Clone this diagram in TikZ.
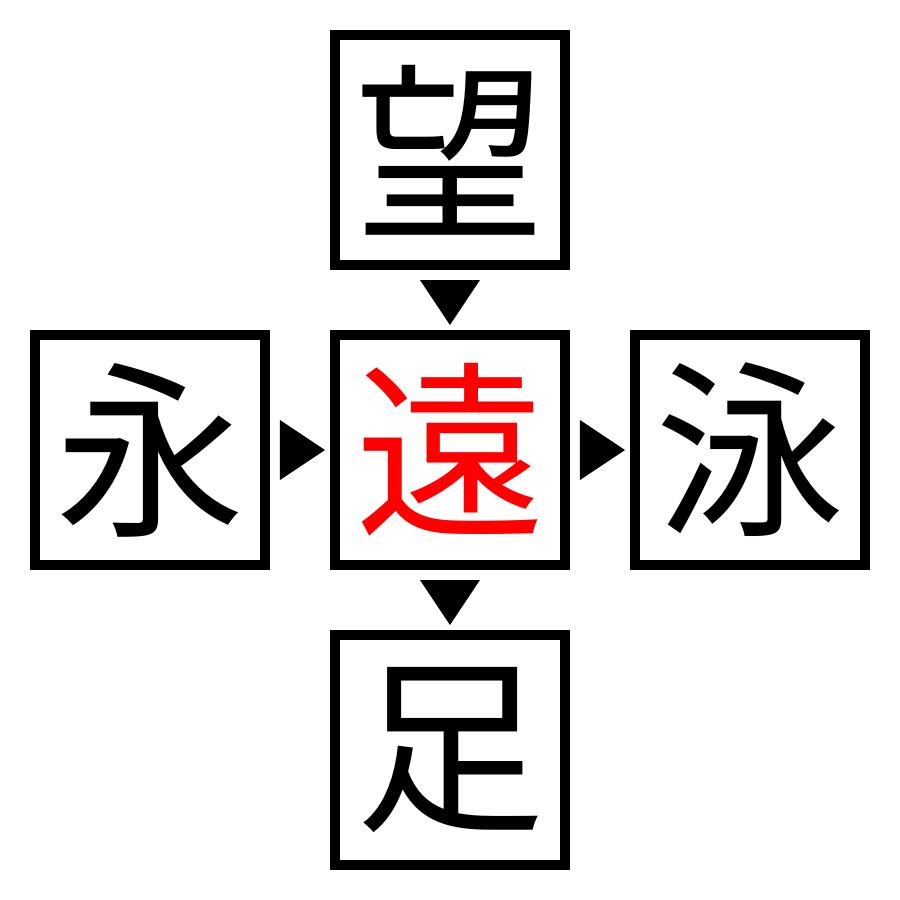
\documentclass[tikz,border=0pt]{standalone}
\usepackage{fontspec}
\usepackage{xcolor}
\usepackage{tikz}
\usetikzlibrary{positioning,calc}
\newfontfamily\cjk{Noto Sans CJK JP}
\tikzset{
    kanji/.style={rectangle, draw, line width=1mm, minimum size=2.3cm, inner sep=0pt, font=\cjk\fontsize{54pt}{54pt}\selectfont},
    centre/.style={kanji, text=red},
    pointer/.style={fill=black}
}
\begin{document}
\begin{tikzpicture}
% Centre box
\node[centre] (mid) at (0,0) {遠};
\useasboundingbox ($(mid.center)+(-4.5,-4.5)$) rectangle ($(mid.center)+(4.5,4.5)$);

% Surrounding boxes
\node[kanji, above=6mm of mid] (top) {望};
\node[kanji, below=6mm of mid] (bottom) {足};
\node[kanji, left=6mm of mid] (left) {永};
\node[kanji, right=6mm of mid] (right) {泳};

% Pointers
\fill[pointer] ([xshift=-3mm,yshift=-1mm]top.south) -- ([xshift=3mm,yshift=-1mm]top.south) -- ([yshift=0.5mm]mid.north) -- cycle;
\fill[pointer] ([xshift=-3mm,yshift=-1mm]mid.south) -- ([xshift=3mm,yshift=-1mm]mid.south) -- ([yshift=0.5mm]bottom.north) -- cycle;
\fill[pointer] ([xshift=1mm,yshift=3mm]left.east) -- ([xshift=1mm,yshift=-3mm]left.east) -- ([xshift=-0.5mm]mid.west) -- cycle;
\fill[pointer] ([xshift=1mm,yshift=3mm]mid.east) -- ([xshift=1mm,yshift=-3mm]mid.east) -- ([xshift=-0.5mm]right.west) -- cycle;
\end{tikzpicture}
\end{document}
